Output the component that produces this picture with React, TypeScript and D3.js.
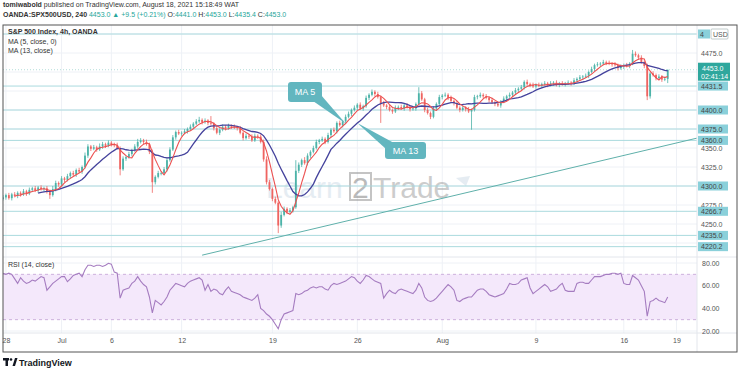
import * as d3 from "d3";
import React, { useRef, useEffect } from "react";

const width = 740;
const height = 373;
const frame = { left: 3, right: 737, top: 25, bottom: 352 };
const axisX = 697;
const mainBottom = 257;
const rsiBottom = 333;
const font = "'Liberation Sans', Arial, sans-serif";

// 4h closes, Jun 28 -> Aug 18 2021 (S&P 500, OANDA)
const firstOpen = 4283;
const closes = [
  4285, 4288, 4284, 4289, 4287, 4291, 4289, 4293, 4290, 4295, 4297, 4294,
  4298, 4296, 4297, 4292, 4288, 4296, 4304, 4302, 4310, 4308, 4313, 4317,
  4315, 4321, 4319, 4325, 4340, 4352, 4349, 4351, 4348, 4352, 4355, 4353,
  4357, 4355, 4354, 4350, 4322, 4336, 4338, 4342, 4347, 4352, 4358, 4360,
  4358, 4355, 4345, 4305, 4312, 4317, 4317, 4322, 4334, 4348, 4364, 4371,
  4369, 4370, 4372, 4375, 4378, 4382, 4385, 4387, 4384, 4386, 4383, 4382,
  4376, 4370, 4374, 4378, 4376, 4379, 4378, 4377, 4376, 4370, 4363, 4366,
  4365, 4360, 4366, 4365, 4358, 4335, 4305, 4296, 4283, 4278, 4248, 4262,
  4270, 4266, 4268, 4272, 4320, 4328, 4334, 4330, 4340, 4345, 4350, 4358,
  4360, 4362, 4358, 4367, 4374, 4372, 4383, 4380, 4385, 4391, 4395, 4400,
  4403, 4407, 4402, 4405, 4416, 4420, 4424, 4421, 4417, 4409, 4406, 4404,
  4400, 4398, 4403, 4404, 4402, 4406, 4404, 4401, 4402, 4408, 4422, 4414,
  4400, 4396, 4391, 4402, 4408, 4417, 4419, 4420, 4416, 4412, 4409, 4403,
  4400, 4403, 4401, 4398, 4400, 4417, 4418, 4420, 4418, 4416, 4413, 4410,
  4408, 4406, 4411, 4415, 4418, 4420, 4423, 4426, 4428, 4430, 4437, 4434,
  4433, 4431, 4433, 4432, 4434, 4435, 4433, 4435, 4436, 4433, 4435, 4434,
  4435, 4436, 4435, 4439, 4441, 4443, 4444, 4445, 4450, 4454, 4459, 4460,
  4461, 4463, 4462, 4461, 4460, 4459, 4455, 4457, 4459, 4458, 4461, 4474,
  4472, 4469, 4463, 4458, 4418, 4448, 4446, 4442, 4444, 4440, 4441, 4453,
];
const wickUp = [
  3, 2, 3, 2, 3, 2, 2, 3, 2, 3, 2, 3,
  2, 3, 2, 3, 2, 4, 3, 2, 3, 2, 3, 2,
  3, 2, 3, 2, 4, 3, 2, 3, 2, 4, 3, 2,
  3, 2, 2, 3, 2, 3, 2, 3, 2, 3, 4, 3,
  2, 3, 2, 3, 2, 3, 2, 3, 4, 3, 3, 2,
  3, 2, 3, 2, 3, 2, 3, 4, 2, 3, 2, 9,
  2, 3, 2, 3, 2, 3, 2, 3, 2, 3, 2, 3,
  2, 3, 3, 2, 3, 3, 4, 3, 2, 3, 2, 4,
  3, 2, 3, 2, 14, 3, 2, 4, 3, 2, 3, 3,
  2, 3, 2, 3, 2, 3, 2, 3, 2, 3, 3, 2,
  3, 2, 3, 2, 3, 2, 3, 2, 3, 2, 3, 2,
  3, 2, 3, 2, 3, 2, 3, 2, 3, 2, 8, 3,
  2, 3, 2, 3, 2, 3, 2, 3, 2, 3, 2, 3,
  2, 3, 2, 3, 2, 3, 2, 3, 2, 3, 2, 3,
  2, 3, 2, 3, 2, 3, 2, 3, 2, 3, 2, 3,
  2, 3, 2, 3, 2, 3, 2, 3, 2, 3, 2, 3,
  2, 3, 2, 3, 2, 3, 2, 3, 2, 3, 2, 3,
  2, 3, 2, 3, 2, 3, 2, 3, 2, 3, 2, 5,
  3, 2, 3, 2, 3, 2, 3, 2, 3, 2, 3, 0,
];
const wickDn = [
  2, 3, 2, 3, 2, 3, 3, 2, 3, 2, 3, 2,
  3, 2, 3, 2, 5, 2, 3, 3, 2, 3, 2, 3,
  2, 3, 2, 3, 2, 3, 3, 2, 3, 2, 3, 3,
  2, 3, 3, 2, 8, 2, 3, 2, 3, 2, 3, 2,
  3, 2, 3, 14, 3, 2, 3, 2, 3, 2, 2, 3,
  2, 3, 2, 3, 2, 3, 2, 2, 3, 2, 3, 2,
  3, 2, 3, 2, 3, 2, 3, 2, 3, 2, 3, 2,
  3, 2, 2, 3, 2, 3, 3, 2, 3, 2, 10, 3,
  2, 3, 2, 3, 2, 3, 3, 2, 3, 3, 2, 2,
  3, 2, 3, 2, 3, 2, 3, 2, 3, 2, 2, 3,
  2, 3, 2, 3, 2, 3, 2, 3, 2, 26, 2, 3,
  2, 3, 2, 3, 2, 3, 2, 3, 2, 3, 2, 2,
  3, 2, 3, 2, 3, 2, 3, 2, 3, 2, 3, 2,
  3, 2, 3, 2, 24, 2, 3, 2, 3, 2, 3, 2,
  3, 2, 3, 2, 3, 2, 3, 2, 3, 2, 3, 2,
  3, 2, 3, 2, 3, 2, 3, 2, 3, 2, 3, 2,
  3, 2, 3, 2, 3, 2, 3, 2, 3, 2, 3, 2,
  3, 2, 3, 2, 3, 2, 3, 2, 3, 2, 3, 2,
  2, 3, 2, 3, 5, 3, 2, 3, 2, 3, 2, 5.6,
];
// RSI (14, close)
const rsiValues = [
  71, 70, 71, 70, 66, 62, 67, 64, 62, 63, 65, 64,
  66, 68, 67, 56, 59, 62, 64, 66, 68, 68, 63.5, 66,
  69, 70, 71, 68, 74, 78, 78, 77, 78, 78, 77, 78,
  79.7, 79, 72, 71, 49, 56, 57, 58, 62, 64, 68, 64,
  61, 59, 50, 36, 47, 45, 43, 46, 50, 56, 59, 62,
  61, 60, 59, 62, 64, 65, 66, 67, 65, 56, 61, 55,
  57, 56, 53, 52, 56, 59, 55, 54, 53, 52, 50, 49,
  48, 47, 49, 52, 40, 38, 35, 33, 30, 26, 22, 30,
  35, 36, 37, 38, 53, 52, 53, 55, 56, 58, 59, 58,
  59, 59, 57, 56, 60, 62, 61, 62, 63, 64, 66, 68,
  67, 64, 62, 65, 69, 68, 66, 64, 63, 62, 49, 53,
  56, 54, 53, 56, 57, 56, 55, 54, 53, 56, 62, 58,
  50, 47, 46, 47, 49, 52, 55, 58, 61, 59, 56, 47,
  46, 48, 49, 50, 50, 53, 56, 57, 57, 55, 52, 51,
  50, 51, 52, 53, 57, 62, 61, 61, 62, 65, 66, 67,
  58, 53, 55, 57, 59, 61, 59, 55, 56, 57, 60, 62,
  56, 55, 55, 55, 62, 63, 63, 62, 62, 65, 68, 68,
  68, 69, 70, 70, 71, 71, 70, 71, 62, 61, 61, 69,
  67, 65, 60, 55, 33, 46, 47, 49, 47, 46, 45, 50,
];

const dateTicks = ["28", "Jul", "6", "12", "19", "26", "Aug", "9", "16", "19"];
const dateTickBars = [1, 20, 37, 61, 92, 121, 150, 182, 212, 230];
const levels = [4500, 4431.5, 4400, 4375, 4360, 4300, 4266.7, 4235, 4220.2];
const gridPrices = [4225, 4250, 4275, 4300, 4325, 4350, 4375, 4400, 4425, 4450, 4475, 4500];
const priceTicks = [4250, 4275, 4325, 4350, 4475]; // the ones not hidden by level labels
const rsiTicks = [20, 40, 60, 80];
const trendBars = [68, 237];
const trendPrices = [4209, 4363];
const lastPrice = 4453.0;
const countdown = "02:41:14";
const callout5Bar = 117;
const callout13Bar = 121;

const upColor = "#4cb3a8";
const downColor = "#ef6461";
const teal = "#26a69a";
const levelColor = "#aadade";
const labelBg = "#8ad0da";

function movingAvg(values: number[], n: number) {
  return values.map((_, i) =>
    i < n - 1 ? null : (d3.mean(values.slice(i - n + 1, i + 1)) as number)
  );
}

function Chart() {
  const ref = useRef<SVGSVGElement>(null);

  const x = d3.scaleLinear().domain([0, 237]).range([frame.left, axisX]);
  const y = d3.scaleLinear().domain([4225, 4475]).range([243, 53]);
  const yRsi = d3.scaleLinear().domain([20, 80]).range([331, 263]);

  const ma5 = movingAvg(closes, 5);
  const ma13 = movingAvg(closes, 13);

  useEffect(() => {
    const svg = d3.select(ref.current);
    const styleText = (g: any) =>
      g.selectAll("text").attr("fill", "#555").style("font-size", "7px").style("font-family", font);

    // price axis
    svg
      .select(".y-axis")
      .attr("transform", `translate(${axisX},0)`)
      .call(
        d3.axisRight(y).tickValues(priceTicks).tickSize(0).tickPadding(4)
          .tickFormat(d3.format(".1f") as any) as any
      )
      .call((g: any) => g.select(".domain").remove())
      .call(styleText);

    // rsi axis
    svg
      .select(".rsi-axis")
      .attr("transform", `translate(${axisX},0)`)
      .call(
        d3.axisRight(yRsi).tickValues(rsiTicks).tickSize(0).tickPadding(5)
          .tickFormat(d3.format(".2f") as any) as any
      )
      .call((g: any) => g.select(".domain").remove())
      .call(styleText);

    // date axis
    svg
      .select(".x-axis")
      .attr("transform", `translate(0,${rsiBottom})`)
      .call(
        d3.axisBottom(x).tickValues(dateTickBars).tickSize(0).tickPadding(5)
          .tickFormat((d: any, i: number) => dateTicks[i]) as any
      )
      .call((g: any) => g.select(".domain").remove())
      .call(styleText);
  }, []);

  const maLine = d3
    .line<number | null>()
    .defined((d) => d !== null)
    .x((_, i) => x(i))
    .y((d) => y(d as number));

  const rsiLine = d3
    .line<number>()
    .x((_, i) => x(i))
    .y((d) => yRsi(d));

  const bodyW = 1.8;
  const candles = closes.map((c, i) => {
    const o = i === 0 ? firstOpen : closes[i - 1];
    const hi = Math.max(o, c) + wickUp[i];
    const lo = Math.min(o, c) - wickDn[i];
    const col = c >= o ? upColor : downColor;
    const top = y(Math.max(o, c));
    const bot = y(Math.min(o, c));
    return (
      <g key={i}>
        <line x1={x(i)} x2={x(i)} y1={y(hi)} y2={y(lo)} stroke={col} strokeWidth={0.8} />
        <rect x={x(i) - bodyW / 2} y={top} width={bodyW} height={Math.max(bot - top, 0.7)} fill={col} />
      </g>
    );
  });

  const tip5 = [x(callout5Bar), y(ma5[callout5Bar] as number)];
  const tip13 = [x(callout13Bar), y(ma13[callout13Bar] as number)];
  const b5 = { x: 288, y: 82, w: 34, h: 20 };
  const b13 = { x: 385, y: 142, w: 41, h: 17 };
  const calloutColor = "#62b6bf";
  const fmt = d3.format(".1f");

  return (
    <svg
      ref={ref}
      width={width}
      height={height}
      style={{ position: "absolute", left: 0, top: 0, background: "#fff", fontFamily: font }}
    >
      <defs>
        <clipPath id="mainClip">
          <rect x={frame.left} y={frame.top} width={axisX - frame.left} height={mainBottom - frame.top} />
        </clipPath>
        <clipPath id="rsiClip">
          <rect x={frame.left} y={mainBottom} width={axisX - frame.left} height={rsiBottom - mainBottom} />
        </clipPath>
      </defs>

      {/* header */}
      <text x={3} y={7} fontSize={7} fill="#333">
        <tspan fontWeight="bold">tomiwabold</tspan> published on TradingView.com, August 18, 2021 15:18:49 WAT
      </text>
      <text x={3} y={17} fontSize={7} fill="#333">
        <tspan fontWeight="bold">OANDA:SPX500USD, 240</tspan>
        <tspan fill={teal}> 4453.0 ▲ +9.5 (+0.21%) </tspan>
        <tspan>O:</tspan>
        <tspan fill={teal}>4441.0 </tspan>
        <tspan>H:</tspan>
        <tspan fill={teal}>4453.0 </tspan>
        <tspan>L:</tspan>
        <tspan fill={teal}>4435.4 </tspan>
        <tspan>C:</tspan>
        <tspan fill={teal}>4453.0</tspan>
      </text>

      {/* grid */}
      <g stroke="#eef1f6" strokeWidth={1}>
        {dateTickBars.map((b, i) => (
          <line key={i} x1={x(b)} x2={x(b)} y1={frame.top} y2={rsiBottom} />
        ))}
        {gridPrices.map((p) => (
          <line key={p} x1={frame.left} x2={axisX} y1={y(p)} y2={y(p)} />
        ))}
        {rsiTicks.map((r) => (
          <line key={r} x1={frame.left} x2={axisX} y1={yRsi(r)} y2={yRsi(r)} />
        ))}
      </g>

      {/* watermark */}
      <g opacity={0.5} fontSize={30}>
        <text x={266} y={198} fill="#cddbe7">Learn</text>
        <rect x={350} y={173} width={21} height={27} fill="none" stroke="#8a8a8a" strokeWidth={2} />
        <text x={352} y={198} fill="#777">2</text>
        <text x={373} y={198} fill="#9a9a9a">Trade</text>
        <path d="M456,178 L470,176 L466,186 Z" fill="#cddbe7" />
      </g>

      {/* levels and trendline */}
      <g clipPath="url(#mainClip)">
        {levels.map((l) => (
          <line key={l} x1={frame.left} x2={axisX} y1={y(l)} y2={y(l)} stroke={levelColor} strokeWidth={1} />
        ))}
        <line
          x1={x(trendBars[0])}
          y1={y(trendPrices[0])}
          x2={x(trendBars[1])}
          y2={y(trendPrices[1])}
          stroke="#5fb0aa"
          strokeWidth={1}
        />
        <line x1={frame.left} x2={axisX} y1={y(lastPrice)} y2={y(lastPrice)} stroke="#9fd6d0" strokeWidth={0.8} strokeDasharray="1,2" />
        {candles}
        <path d={maLine(ma13) || ""} fill="none" stroke="#44429c" strokeWidth={1.3} />
        <path d={maLine(ma5) || ""} fill="none" stroke="#ec5050" strokeWidth={1.1} />
      </g>

      {/* legend */}
      <g fontSize={7} fill="#333">
        <text x={8} y={34} fontWeight="bold">S&amp;P 500 Index, 4h, OANDA</text>
        <text x={8} y={44}>MA (5, close, 0)</text>
        <text x={8} y={53}>MA (13, close)</text>
      </g>

      {/* callouts */}
      <g>
        <path
          d={`M${b5.x + b5.w - 9},${b5.y + b5.h - 1} L${b5.x + b5.w - 1},${b5.y + b5.h - 7} L${tip5[0]},${tip5[1]} Z`}
          fill={calloutColor}
        />
        <rect x={b5.x} y={b5.y} width={b5.w} height={b5.h} rx={3} fill={calloutColor} />
        <text x={b5.x + b5.w / 2} y={b5.y + b5.h / 2 + 3} fontSize={9} fill="#fff" textAnchor="middle">MA 5</text>
        <path
          d={`M${b13.x + 1},${b13.y + 7} L${b13.x + 9},${b13.y + 1} L${tip13[0]},${tip13[1]} Z`}
          fill={calloutColor}
        />
        <rect x={b13.x} y={b13.y} width={b13.w} height={b13.h} rx={3} fill={calloutColor} />
        <text x={b13.x + b13.w / 2} y={b13.y + b13.h / 2 + 3} fontSize={9} fill="#fff" textAnchor="middle">MA 13</text>
      </g>

      {/* rsi pane */}
      <line x1={frame.left} x2={frame.right} y1={mainBottom} y2={mainBottom} stroke="#e3e6ec" />
      <g clipPath="url(#rsiClip)">
        <rect x={frame.left} y={yRsi(70)} width={axisX - frame.left} height={yRsi(30) - yRsi(70)} fill="#f4e8fb" />
        <line x1={frame.left} x2={axisX} y1={yRsi(70)} y2={yRsi(70)} stroke="#cdb0dc" strokeDasharray="3,3" />
        <line x1={frame.left} x2={axisX} y1={yRsi(30)} y2={yRsi(30)} stroke="#cdb0dc" strokeDasharray="3,3" />
        <path d={rsiLine(rsiValues) || ""} fill="none" stroke="#a57cc0" strokeWidth={1.1} />
      </g>
      <text x={8} y={267} fontSize={7} fill="#333">RSI (14, close)</text>

      {/* axes */}
      <line x1={frame.left} x2={frame.right} y1={rsiBottom} y2={rsiBottom} stroke="#e3e6ec" />
      <line x1={axisX} x2={axisX} y1={frame.top} y2={frame.bottom} stroke="#e3e6ec" />
      <g className="y-axis" />
      <g className="rsi-axis" />
      <g className="x-axis" />

      {/* price axis labels */}
      <g fontSize={7}>
        {levels.slice(1).map((l) => (
          <g key={l}>
            <rect x={axisX + 1} y={y(l) - 4.5} width={30} height={9} fill={labelBg} />
            <text x={axisX + 4} y={y(l) + 2.5} fill="#444">{fmt(l)}</text>
          </g>
        ))}
        <rect x={axisX + 1} y={y(levels[0]) - 4.5} width={12} height={9} fill={labelBg} />
        <text x={axisX + 3} y={y(levels[0]) + 2.5} fill="#444">4</text>
        <rect x={axisX + 14} y={y(levels[0]) - 5} width={17} height={10} fill="#fff" stroke="#9aa" strokeWidth={0.6} rx={1} />
        <text x={axisX + 16} y={y(levels[0]) + 2.5} fill="#555">USD</text>
        <rect x={axisX + 1} y={y(lastPrice) - 7} width={32} height={18} fill="#2ea79d" />
        <text x={axisX + 5} y={y(lastPrice) + 1} fill="#fff">{fmt(lastPrice)}</text>
        <text x={axisX + 4} y={y(lastPrice) + 9} fill="#fff">{countdown}</text>
      </g>

      {/* frame */}
      <rect
        x={frame.left}
        y={frame.top}
        width={frame.right - frame.left}
        height={frame.bottom - frame.top}
        fill="none"
        stroke="#555"
        strokeWidth={1}
      />

      {/* TradingView logo */}
      <g fill="#131722">
        <rect x={3} y={358} width={6} height={2.5} />
        <rect x={5.5} y={358} width={2.5} height={8} />
        <circle cx={11} cy={359.5} r={1.3} />
        <path d="M12.5,366 L15,358 L17.5,358 L15,366 Z" />
        <text x={19} y={366} fontSize={9} fontWeight="bold">TradingView</text>
      </g>
    </svg>
  );
}

export default function App() {
  return <Chart />;
}
